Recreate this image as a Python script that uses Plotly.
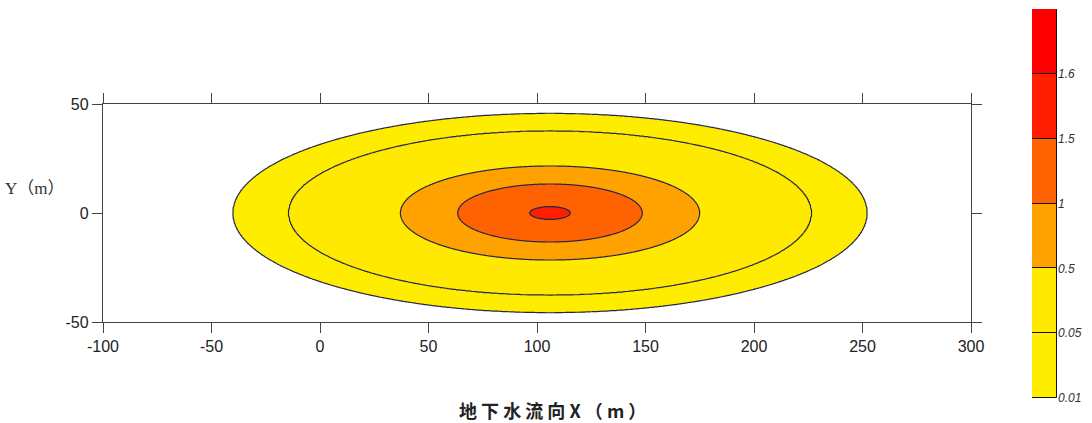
import numpy as np
import plotly.graph_objects as go

# Contour levels (mg/L) and the fill colour of each band, lowest first
levels = [0.01, 0.05, 0.5, 1.0, 1.5, 1.6]
level_labels = ["0.01", "0.05", "0.5", "1", "1.5", "1.6"]
band_colors = ["#FFED00", "#FFE900", "#FFA200", "#FF6200", "#FF1E00", "#FF0000"]
below_color = "#FFFFFF"

# Axis ticks
x_ticks = [-100, -50, 0, 50, 100, 150, 200, 250, 300]
y_ticks = [-50, 0, 50]

# Plume parameters: peak concentration, centre along the flow direction,
# longitudinal / transverse spread (m)
peak_conc = 1.53
center_x = 106.0
sigma_x = 65.2
sigma_y = 20.4

# Computation grid
grid_x = np.linspace(-100, 300, 801)
grid_y = np.linspace(-50, 50, 401)

X, Y = np.meshgrid(grid_x, grid_y)
conc = peak_conc * np.exp(-((X - center_x) / sigma_x) ** 2 - (Y / sigma_y) ** 2)

# Map concentrations onto an evenly spaced level index so that the
# non-uniform contour levels can be drawn with a regular contour step
idx = np.interp(conc, levels, np.arange(len(levels)))
low = conc < levels[0]
idx[low] = conc[low] / levels[0] - 1.0
high = conc > levels[-1]
idx[high] = len(levels) - 1 + (conc[high] - levels[-1]) / 0.1

n_regions = len(levels) + 1
region_colors = [below_color] + band_colors
colorscale = [[i / (n_regions - 1), c] for i, c in enumerate(region_colors)]

fig = go.Figure()

fig.add_trace(go.Contour(
    x=grid_x, y=grid_y, z=idx,
    contours=dict(start=0, end=len(levels) - 1, size=1, coloring="fill"),
    colorscale=colorscale,
    line=dict(color="#26264a", width=1.2, smoothing=1.0),
    showscale=False,
    hoverinfo="skip",
))

# Legend bar: one equal-height block per band
fig.add_trace(go.Bar(
    x=[0] * len(band_colors),
    y=[1] * len(band_colors),
    base=list(range(len(band_colors))),
    width=1,
    marker=dict(color=band_colors, line=dict(color="#111111", width=1)),
    xaxis="x2", yaxis="y2",
    showlegend=False,
    hoverinfo="skip",
))

axis_line = "#444444"
tick_font = dict(family="Arial, Liberation Sans, sans-serif", size=16, color="#222222")

fig.update_layout(
    width=1092, height=423,
    margin=dict(l=0, r=0, t=0, b=0),
    paper_bgcolor="white", plot_bgcolor="white",
    showlegend=False,
    xaxis=dict(
        domain=[103 / 1092, 971 / 1092],
        range=[-100, 300],
        tickvals=x_ticks, ticktext=[str(v) for v in x_ticks],
        ticks="outside", ticklen=10, tickwidth=1.2, tickcolor=axis_line,
        showline=True, linecolor=axis_line, linewidth=1.3, mirror="ticks",
        showgrid=False, zeroline=False, automargin=False,
        tickfont=tick_font,
    ),
    yaxis=dict(
        domain=[1 - 322 / 423, 1 - 104 / 423],
        range=[-50, 50],
        tickvals=y_ticks, ticktext=[str(v) for v in y_ticks],
        ticks="outside", ticklen=10, tickwidth=1.2, tickcolor=axis_line,
        showline=True, linecolor=axis_line, linewidth=1.3, mirror="ticks",
        showgrid=False, zeroline=False, automargin=False,
        tickfont=tick_font,
    ),
    xaxis2=dict(
        domain=[1032 / 1092, 1057 / 1092],
        range=[-0.5, 0.5],
        anchor="y2",
        showticklabels=False, showgrid=False, zeroline=False, showline=False,
        fixedrange=True, automargin=False,
    ),
    yaxis2=dict(
        domain=[1 - 398 / 423, 1 - 9 / 423],
        range=[0, len(band_colors)],
        anchor="x2", side="right",
        tickvals=list(range(len(level_labels))),
        ticktext=level_labels,
        ticks="", showgrid=False, zeroline=False, showline=False,
        automargin=False,
        tickfont=dict(family="Arial, Liberation Sans, sans-serif", size=12,
                      color="#333333", style="italic"),
        fixedrange=True,
    ),
    bargap=0,
    annotations=[
        dict(
            text="Y（m）", x=35 / 1092, y=1 - 188 / 423,
            xref="paper", yref="paper", showarrow=False,
            xanchor="center", yanchor="middle",
            font=dict(family="Liberation Serif, Noto Sans CJK SC, serif",
                      size=17, color="#333333"),
        ),
        dict(
            text="<b>地 下 水 流 向 X （ m ）</b>", x=552 / 1092, y=1 - 410 / 423,
            xref="paper", yref="paper", showarrow=False,
            xanchor="center", yanchor="middle",
            font=dict(family="Noto Sans CJK SC, Arial, sans-serif",
                      size=18, color="#222222"),
        ),
    ],
)

fig.write_html("out.html")
